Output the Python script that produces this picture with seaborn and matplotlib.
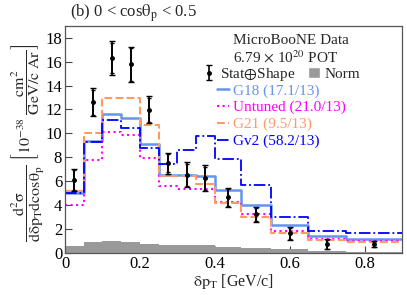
import numpy as np
import matplotlib
matplotlib.use("Agg")
import matplotlib.pyplot as plt
from matplotlib.lines import Line2D
from matplotlib.patches import Patch
import seaborn as sns

sns.set_style("ticks")
plt.rcParams["font.family"] = ["Liberation Serif", "DejaVu Serif"]
plt.rcParams["mathtext.fontset"] = "stix"

# bin edges in delta pT [GeV/c]
edges = [0, 0.05, 0.1, 0.15, 0.2, 0.25, 0.3, 0.35, 0.4, 0.47, 0.55, 0.65, 0.75, 0.9]
centers = [0.025, 0.075, 0.125, 0.175, 0.225, 0.275, 0.325, 0.375, 0.435, 0.51, 0.6, 0.7, 0.825]

# MicroBooNE data + errors
data = [6.12, 12.6, 16.32, 15.76, 11.99, 7.52, 6.54, 6.26, 4.64, 3.25, 1.65, 0.73, 0.75]
err_tot = [0.92, 1.18, 1.4, 1.5, 1.12, 0.88, 1.05, 1.07, 0.8, 0.63, 0.56, 0.42, 0.28]
err_stat = [0.82, 1.05, 1.25, 1.35, 1.0, 0.78, 0.94, 0.96, 0.7, 0.55, 0.48, 0.36, 0.22]
norm = [0.57, 0.9, 1.0, 0.88, 0.75, 0.7, 0.7, 0.68, 0.53, 0.44, 0.3, 0.18, 0.08]

# generator predictions
g18 = [5.0, 9.35, 11.65, 11.25, 9.15, 6.55, 6.5, 6.45, 5.25, 4.05, 2.37, 1.45, 1.15]
untuned = [4.0, 7.8, 10.15, 9.9, 7.95, 5.6, 5.35, 5.35, 4.3, 3.24, 1.87, 1.2, 1.0]
g21 = [5.15, 10.0, 12.95, 12.95, 10.7, 6.45, 6.45, 5.76, 4.15, 2.99, 1.65, 1.1, 0.95]
gv2 = [5.05, 9.25, 11.1, 10.45, 8.8, 7.4, 8.65, 9.75, 7.85, 5.65, 2.97, 1.87, 1.7]

models = [
    ("G18 (17.1/13)", g18, "#6495ed", "-", 1.8),
    ("Untuned (21.0/13)", untuned, "#ff00ff", ":", 1.5),
    ("G21 (9.5/13)", g21, "#ff9966", "--", 1.5),
    ("Gv2 (58.2/13)", gv2, "#0000ff", "-.", 1.3),
]

fig = plt.figure(figsize=(4.07, 2.95), dpi=100)
ax = fig.add_axes([65 / 407, 42 / 295, 337 / 407, 227.3 / 295])

# normalisation uncertainty band
sns.histplot(x=centers, weights=norm, bins=edges, element="step", fill=True,
             color="#999999", alpha=1, linewidth=0, ax=ax)

for name, vals, col, ls, lw in models:
    sns.histplot(x=centers, weights=vals, bins=edges, element="step", fill=False,
                 color=col, linestyle=ls, linewidth=lw, ax=ax)

ax.errorbar(centers, data, yerr=err_stat, fmt="none", ecolor="black",
            elinewidth=1.2, capsize=1.5, capthick=1)
eb = ax.errorbar(centers, data, yerr=err_tot, fmt="o", color="black", ms=2.5,
                 elinewidth=1.2, capsize=2, capthick=1)

ax.set_xlim(0, 0.9)
ax.set_ylim(0, 19)
ax.set_xticks([0, 0.2, 0.4, 0.6, 0.8])
ax.set_xticklabels(["0", "0.2", "0.4", "0.6", "0.8"])
ax.set_yticks(range(0, 19, 2))
ax.tick_params(direction="in", length=5, width=0.8, colors="#444444",
               labelcolor="black", labelsize=12, pad=2)
for s in ax.spines.values():
    s.set_color("#555555")
    s.set_linewidth(0.9)
ax.set_xlabel("")
ax.set_ylabel("")

fig.text(0.5735, 0.045, r"$\mathrm{\delta p_{T}}$ [GeV/c]", ha="center",
         va="center", fontsize=11.5)
fig.text(0.068, 0.515,
         r"$\dfrac{\mathrm{d^{2}\sigma}}{\mathrm{d\delta p_{T}dcos\theta_{p}}}"
         r"\ \left[\mathrm{10^{-38}}\ \dfrac{\mathrm{cm^{2}}}{\mathrm{GeV/c\ Ar}}\right]$",
         rotation=90, ha="center", va="center", fontsize=11.5)
ax.text(0.015, 1.055, r"(b) 0 < cos$\mathrm{\theta_{p}}$ < 0.5",
        transform=ax.transAxes, fontsize=12, ha="left", va="center")

ax.text(0.4985, 0.937, "MicroBooNE Data", transform=ax.transAxes,
        fontsize=11, ha="left", va="center")
ax.text(0.4985, 0.862, r"6.79 $\times$ 10$^{20}$ POT", transform=ax.transAxes,
        fontsize=11, ha="left", va="center")

leg1 = ax.legend([eb, Patch(facecolor="#999999")], [r"Stat$\oplus$Shape", "Norm"],
                 ncol=2, loc="center left", bbox_to_anchor=(0.41, 0.785),
                 frameon=False, fontsize=11, handlelength=0.8, handleheight=0.7,
                 handletextpad=0.3, columnspacing=0.8, borderpad=0, borderaxespad=0)
ax.add_artist(leg1)

handles = [Line2D([], [], color=c, linestyle=ls, linewidth=lw) for _, _, c, ls, lw in models]
ax.legend(handles, [m[0] for m in models], loc="upper left",
          bbox_to_anchor=(0.45, 0.745), frameon=False, fontsize=11,
          handlelength=0.8, handletextpad=0.3, labelspacing=0.2,
          borderpad=0, borderaxespad=0, labelcolor="linecolor")

fig.savefig("out.png", dpi=100)
